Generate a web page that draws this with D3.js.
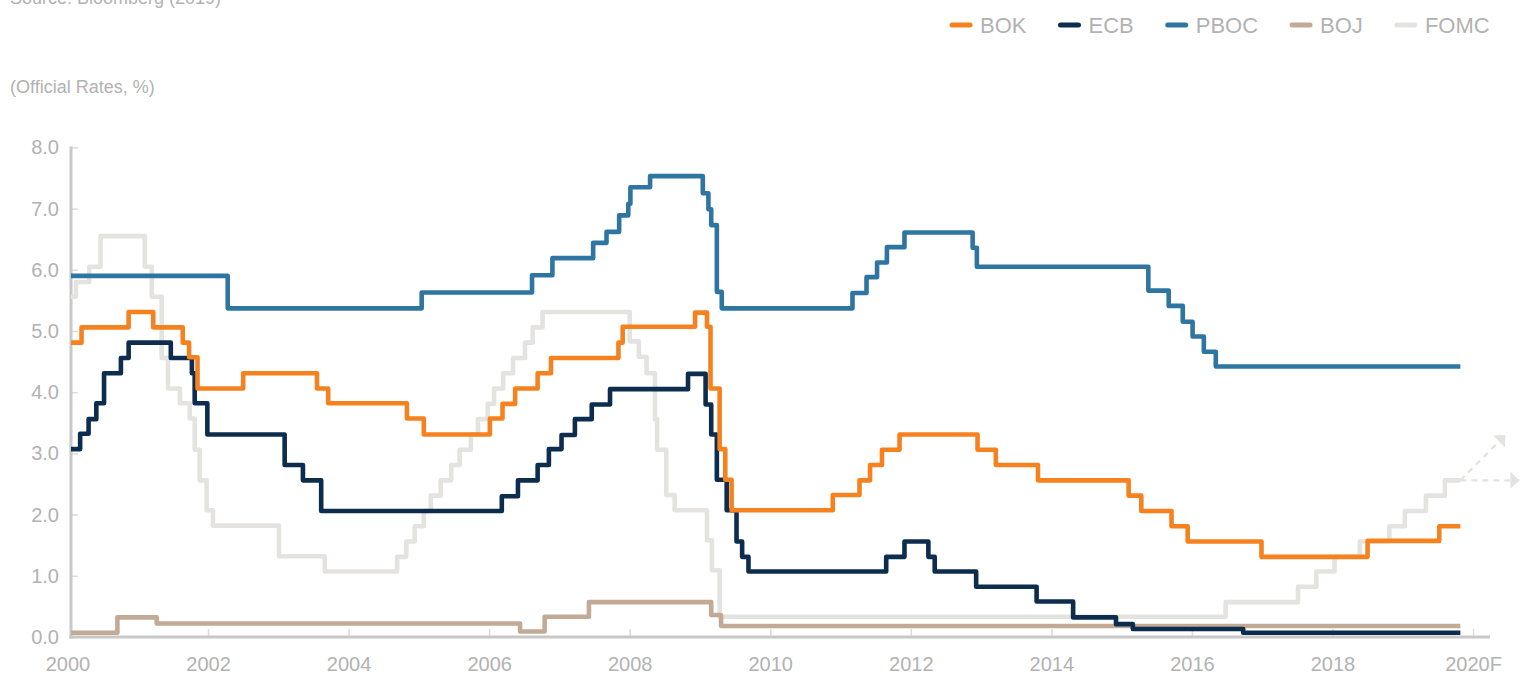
<!DOCTYPE html>
<html>
<head>
<meta charset="utf-8">
<script src="https://cdn.jsdelivr.net/npm/d3@7"></script>
<style>
  body { margin: 0; background: #fff; }
  text { font-family: "Liberation Sans", Arial, sans-serif; }
</style>
</head>
<body>
<script>
// policy rates, step changes: [year, rate %]
const bok = [[2000.05,4.81],[2000.20,5.06],[2000.87,5.31],[2001.22,5.06],[2001.64,4.81],[2001.73,4.57],[2001.85,4.06],
  [2002.50,4.31],[2003.55,4.06],[2003.71,3.82],[2004.83,3.57],[2005.07,3.31],[2006.01,3.57],[2006.19,3.81],[2006.37,4.06],
  [2006.69,4.31],[2006.88,4.56],[2007.84,4.81],[2007.90,5.07],[2008.93,5.30],[2009.10,5.07],[2009.15,4.06],[2009.28,3.07],
  [2009.36,2.57],[2009.45,2.07],[2010.89,2.32],[2011.27,2.56],[2011.42,2.81],[2011.59,3.06],[2011.84,3.31],[2012.95,3.06],
  [2013.21,2.81],[2013.81,2.56],[2015.10,2.31],[2015.28,2.06],[2015.71,1.81],[2015.94,1.56],[2016.99,1.31],[2018.50,1.57],
  [2019.52,1.81],[2019.82,1.81]]

const ecb = [[2000.05,3.07],[2000.18,3.32],[2000.30,3.56],[2000.41,3.82],[2000.52,4.31],[2000.76,4.56],[2000.87,4.81],
  [2001.47,4.56],[2001.77,4.31],[2001.81,3.82],[2001.99,3.31],[2003.09,2.81],[2003.35,2.56],[2003.61,2.06],[2006.18,2.30],
  [2006.41,2.56],[2006.69,2.81],[2006.85,3.07],[2007.03,3.30],[2007.22,3.56],[2007.46,3.80],[2007.72,4.05],[2008.83,4.30],
  [2009.08,3.80],[2009.16,3.31],[2009.24,2.57],[2009.38,2.07],[2009.52,1.56],[2009.60,1.31],[2009.69,1.07],[2011.65,1.31],
  [2011.91,1.56],[2012.25,1.31],[2012.34,1.07],[2012.93,0.82],[2013.79,0.58],[2014.31,0.32],[2014.92,0.21],[2015.16,0.13],
  [2016.73,0.07],[2019.82,0.07]]

const pboc = [[2000.05,5.90],[2002.28,5.37],[2005.04,5.63],[2006.61,5.91],[2006.90,6.19],[2007.48,6.44],[2007.67,6.62],
  [2007.85,6.89],[2007.98,7.08],[2008.01,7.35],[2008.29,7.53],[2009.04,7.25],[2009.12,6.99],[2009.16,6.73],[2009.24,5.64],
  [2009.31,5.37],[2011.17,5.62],[2011.37,5.88],[2011.52,6.12],[2011.66,6.37],[2011.91,6.61],[2012.88,6.36],[2012.94,6.05],
  [2015.38,5.66],[2015.67,5.41],[2015.87,5.15],[2016.01,4.91],[2016.17,4.66],[2016.34,4.42],[2019.82,4.42]]

const boj = [[2000.05,0.07],[2000.71,0.32],[2001.27,0.22],[2006.44,0.09],[2006.79,0.33],[2007.42,0.57],[2009.16,0.36],
  [2009.30,0.18],[2019.82,0.18]]

const fomc = [[2000.05,5.56],[2000.12,5.80],[2000.31,6.05],[2000.47,6.55],[2001.10,6.05],[2001.20,5.56],[2001.34,4.56],
  [2001.43,4.06],[2001.60,3.82],[2001.74,3.57],[2001.81,3.06],[2001.88,2.56],[2001.98,2.07],[2002.07,1.82],[2003.01,1.32],
  [2003.66,1.07],[2004.69,1.31],[2004.82,1.56],[2004.94,1.81],[2005.07,2.06],[2005.17,2.31],[2005.31,2.56],[2005.46,2.81],
  [2005.58,3.06],[2005.74,3.31],[2005.84,3.56],[2005.98,3.81],[2006.07,4.06],[2006.20,4.31],[2006.34,4.56],[2006.51,4.81],
  [2006.62,5.06],[2006.76,5.31],[2008.00,4.83],[2008.13,4.58],[2008.24,4.31],[2008.36,3.56],[2008.39,3.06],[2008.52,2.32],
  [2008.64,2.07],[2009.10,1.58],[2009.17,1.09],[2009.28,0.33],[2016.48,0.57],[2017.51,0.82],[2017.77,1.07],[2018.03,1.31],
  [2018.39,1.56],[2018.81,1.81],[2019.03,2.06],[2019.33,2.31],[2019.60,2.56],[2019.82,2.56]]

// forecast arrows from the last FOMC value
const fomcForecast = [[2020.46,3.30],[2020.66,2.56]]

const seriesNames = ['BOK', 'ECB', 'PBOC', 'BOJ', 'FOMC']
const seriesData = [bok, ecb, pboc, boj, fomc]
const seriesColors = ['#f5821f', '#0c2d4e', '#2e76a1', '#c3aa95', '#e4e3df']

const yTicks = [0, 1, 2, 3, 4, 5, 6, 7, 8]
const xTicks = [2000, 2002, 2004, 2006, 2008, 2010, 2012, 2014, 2016, 2018, 2020]

const labelGrey = '#b2b2b2'
const axisGrey = '#c8c8c8'

const svg = d3.select('body').append('svg').attr('width', 1520).attr('height', 675)

const x = d3.scaleLinear().domain([2000, 2020]).range([67.5, 1473])
const y = d3.scaleLinear().domain([0, 8]).range([637, 147.4])

function drawTitles() {
  svg.append('text').attr('x', 10).attr('y', 4)
    .attr('font-size', 18).attr('fill', labelGrey)
    .text('Source: Bloomberg (2019)')
  svg.append('text').attr('x', 10).attr('y', 93)
    .attr('font-size', 18).attr('fill', labelGrey)
    .text('(Official Rates, %)')
}

function drawAxes() {
  const yAxis = svg.append('g').attr('transform', 'translate(71,0)')
    .call(d3.axisLeft(y).tickValues(yTicks).tickFormat(d3.format('.1f')).tickSize(-7).tickSizeOuter(0).tickPadding(12))
  yAxis.select('.domain').remove()
  yAxis.selectAll('line').attr('stroke', '#dcdcdc').attr('stroke-width', 1.5)
  yAxis.selectAll('text').attr('font-size', 20).attr('fill', labelGrey).attr('font-family', '"Liberation Sans", Arial, sans-serif')

  const xAxis = svg.append('g').attr('transform', 'translate(0,637)')
    .call(d3.axisBottom(x).tickValues(xTicks).tickFormat(d => d === 2020 ? '2020F' : d).tickSize(-8).tickSizeOuter(0).tickPadding(20))
  xAxis.select('.domain').remove()
  xAxis.selectAll('line').attr('stroke', '#dcdcdc').attr('stroke-width', 1.5)
    .filter(d => d === 2000).remove()
  xAxis.selectAll('text').attr('font-size', 20).attr('fill', labelGrey).attr('font-family', '"Liberation Sans", Arial, sans-serif')

  svg.append('line').attr('x1', 71).attr('x2', 71).attr('y1', y(8) - 1).attr('y2', 638.5)
    .attr('stroke', axisGrey).attr('stroke-width', 3)
  svg.append('line').attr('x1', 69.5).attr('x2', 1490).attr('y1', 637).attr('y2', 637)
    .attr('stroke', axisGrey).attr('stroke-width', 3)
}

function drawLines() {
  const line = d3.line().x(d => x(d[0])).y(d => y(d[1])).curve(d3.curveStepAfter)
  // back to front: FOMC, BOJ, PBOC, ECB, BOK
  for (let i = seriesData.length - 1; i >= 0; i--) {
    svg.append('path')
      .datum(seriesData[i])
      .attr('d', line)
      .attr('fill', 'none')
      .attr('stroke', seriesColors[i])
      .attr('stroke-width', 4.6)
      .attr('stroke-linejoin', 'round')
      .attr('class', seriesNames[i].toLowerCase())
  }
}

function drawForecast() {
  svg.append('defs').append('marker')
    .attr('id', 'arrowhead')
    .attr('viewBox', '0 0 10 10')
    .attr('refX', 10).attr('refY', 5)
    .attr('markerUnits', 'userSpaceOnUse')
    .attr('markerWidth', 9).attr('markerHeight', 17)
    .attr('preserveAspectRatio', 'none')
    .attr('orient', 'auto')
    .append('path').attr('d', 'M0,0 L10,5 L0,10 Z').attr('fill', '#e4e3df')

  const last = fomc[fomc.length - 1]
  fomcForecast.forEach(p => {
    svg.append('line')
      .attr('x1', x(last[0])).attr('y1', y(last[1]))
      .attr('x2', x(p[0])).attr('y2', y(p[1]))
      .attr('stroke', '#e4e3df').attr('stroke-width', 2.2)
      .attr('stroke-dasharray', '6,5')
      .attr('marker-end', 'url(#arrowhead)')
  })
}

function drawLegend() {
  let lx = 952
  seriesNames.forEach((name, i) => {
    svg.append('line').attr('x1', lx).attr('x2', lx + 18).attr('y1', 25).attr('y2', 25)
      .attr('stroke', seriesColors[i]).attr('stroke-width', 5).attr('stroke-linecap', 'round')
    const t = svg.append('text').attr('x', lx + 28).attr('y', 33)
      .attr('font-size', 22).attr('fill', labelGrey).text(name)
    lx = lx + 28 + t.node().getComputedTextLength() + 34
  })
}

drawTitles()
drawAxes()
drawLines()
drawForecast()
drawLegend()
</script>
</body>
</html>
